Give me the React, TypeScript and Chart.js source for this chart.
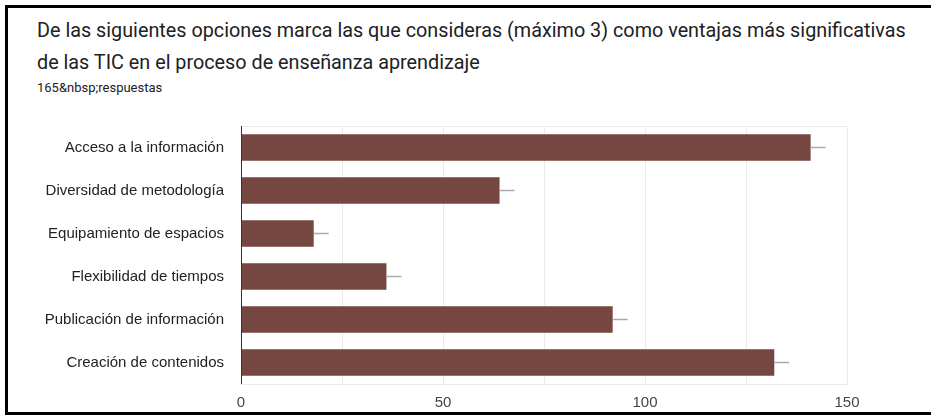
import React, { useEffect, useRef } from "react";
import { Chart, registerables } from "chart.js";

Chart.register(...registerables);

const TITLE_LINES = [
  "De las siguientes opciones marca las que consideras (máximo 3) como ventajas más significativas",
  "de las TIC en el proceso de enseñanza aprendizaje",
];
const SUBTITLE = "165&nbsp;respuestas";

const categories = [
  "Acceso a la información",
  "Diversidad de metodología",
  "Equipamiento de espacios",
  "Flexibilidad de tiempos",
  "Publicación de información",
  "Creación de contenidos",
];
const values = [141, 64, 18, 36, 92, 132];
const whiskers = [3.7, 3.7, 3.7, 3.7, 3.7, 3.7];
const xTicks = [0, 50, 100, 150];

const BAR_COLOR = "#764640";

const frameAndWhiskers = {
  id: "frameAndWhiskers",
  beforeDatasetsDraw(chart: any) {
    const { ctx, chartArea } = chart;
    ctx.save();
    ctx.strokeStyle = "#ebebeb";
    ctx.lineWidth = 1;
    ctx.strokeRect(
      Math.round(chartArea.left) + 0.5,
      Math.round(chartArea.top) + 0.5,
      Math.round(chartArea.right - chartArea.left),
      Math.round(chartArea.bottom - chartArea.top)
    );
    ctx.restore();
  },
  afterDatasetsDraw(chart: any) {
    const { ctx } = chart;
    const xs = chart.scales.x;
    const meta = chart.getDatasetMeta(0);
    ctx.save();
    ctx.strokeStyle = "#aaaaaa";
    ctx.lineWidth = 1.5;
    meta.data.forEach((bar: any, i: number) => {
      const x0 = xs.getPixelForValue(values[i]);
      const x1 = xs.getPixelForValue(values[i] + whiskers[i]);
      ctx.beginPath();
      ctx.moveTo(x0, bar.y);
      ctx.lineTo(x1, bar.y);
      ctx.stroke();
    });
    ctx.strokeStyle = "#333333";
    ctx.lineWidth = 1;
    const ax = Math.round(chart.chartArea.left) + 0.5;
    ctx.beginPath();
    ctx.moveTo(ax, chart.chartArea.top);
    ctx.lineTo(ax, chart.chartArea.bottom);
    ctx.stroke();
    ctx.restore();
  },
};

export default function App() {
  const ref = useRef<HTMLCanvasElement | null>(null);

  useEffect(() => {
    document.body.style.margin = "0";
    if (!ref.current) return;
    const chart = new Chart(ref.current, {
      type: "bar",
      data: {
        labels: categories,
        datasets: [
          {
            data: values,
            backgroundColor: BAR_COLOR,
            borderWidth: 0,
            barPercentage: 0.62,
            categoryPercentage: 1,
          },
        ],
      },
      options: {
        indexAxis: "y",
        animation: false,
        responsive: false,
        maintainAspectRatio: false,
        layout: { padding: { top: 24, right: 84, bottom: 0, left: 0 } },
        plugins: {
          legend: { display: false },
          tooltip: { enabled: false },
          title: { display: false },
        },
        scales: {
          x: {
            min: 0,
            max: 150,
            afterBuildTicks(scale: any) {
              scale.ticks = [0, 25, 50, 75, 100, 125, 150].map((v) => ({ value: v }));
            },
            afterFit(scale: any) {
              scale.height = 28;
            },
            border: { display: false },
            grid: { color: "#ebebeb", drawTicks: false },
            ticks: {
              padding: 10,
              color: "#444444",
              font: { family: "'Liberation Sans', Arial, sans-serif", size: 15 },
              autoSkip: false,
              maxRotation: 0,
              callback: (v: any) => (xTicks.includes(Number(v)) ? String(v) : ""),
            },
          },
          y: {
            afterFit(scale: any) {
              scale.width = 241;
            },
            border: { display: false },
            grid: { display: false, drawTicks: false },
            ticks: {
              padding: 17,
              color: "#222222",
              font: { family: "'Liberation Sans', Arial, sans-serif", size: 15 },
            },
          },
        },
      },
      plugins: [frameAndWhiskers],
    } as any);
    return () => chart.destroy();
  }, []);

  return (
    <div
      style={{
        position: "fixed",
        left: 0,
        top: 0,
        width: 931,
        height: 415,
        overflow: "hidden",
        background: "#fff",
      }}
    >
      <div
        style={{
          position: "absolute",
          left: 5,
          top: 5,
          width: 940,
          height: 410,
          boxSizing: "border-box",
          border: "3px solid #000",
        }}
      />
      <div
        style={{
          position: "absolute",
          left: 37,
          top: 15,
          fontFamily: "Roboto, 'Noto Sans', sans-serif",
          fontSize: 19.8,
          lineHeight: "32px",
          color: "#202124",
          whiteSpace: "nowrap",
        }}
      >
        {TITLE_LINES.map((l, i) => (
          <div key={i}>{l}</div>
        ))}
      </div>
      <div
        style={{
          position: "absolute",
          left: 37,
          top: 80,
          fontFamily: "Roboto, 'Noto Sans', sans-serif",
          fontSize: 13,
          lineHeight: "16px",
          color: "#202124",
          whiteSpace: "nowrap",
        }}
      >
        {SUBTITLE}
      </div>
      <canvas
        ref={ref}
        width={931}
        height={312}
        style={{ position: "absolute", left: 0, top: 100, width: 931, height: 312 }}
      />
    </div>
  );
}
